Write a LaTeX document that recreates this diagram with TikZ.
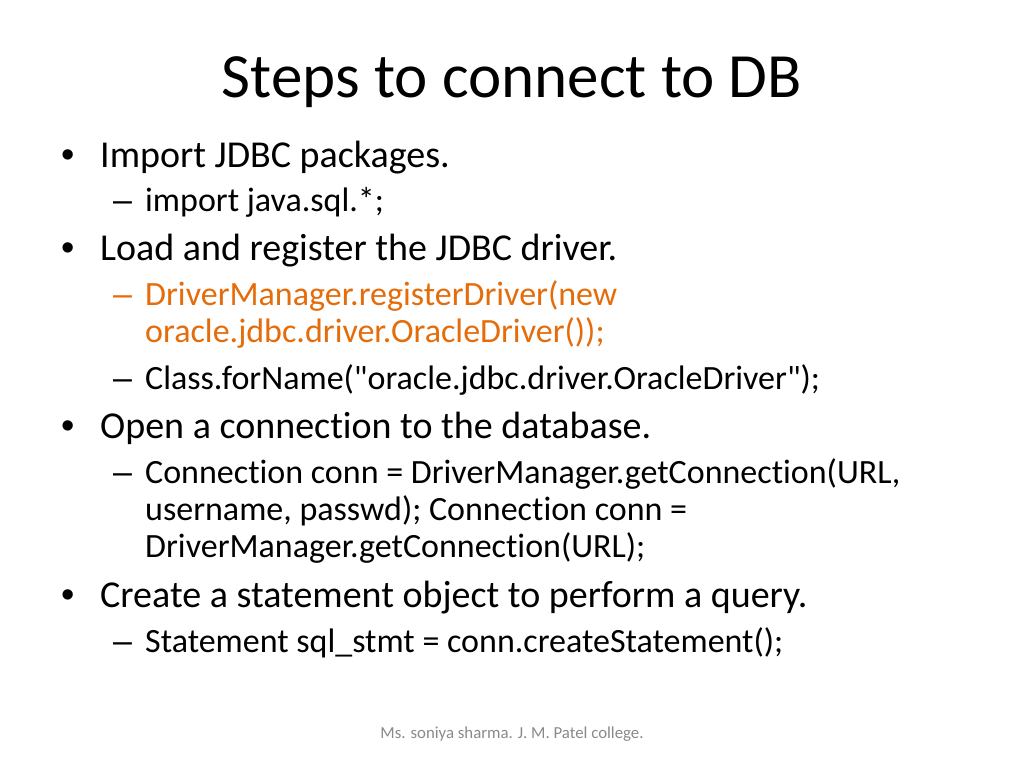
\documentclass[tikz,border=0pt]{standalone}
\usepackage{fontspec}
\setmainfont{Carlito}[Ligatures={NoCommon,TeXOff}]
\newfontfamily\bulfont{Liberation Sans}
\definecolor{orangetxt}{RGB}{228,108,10}
\definecolor{foot}{RGB}{137,137,137}
\tikzset{
  title/.style={anchor=base, inner sep=0pt, font=\fontsize{63}{70}\selectfont},
  lvlone/.style={anchor=base west, inner sep=0pt, font=\fontsize{38}{46}\selectfont},
  lvltwo/.style={anchor=base west, inner sep=0pt, font=\fontsize{34}{37}\selectfont},
  bul/.style={anchor=base, inner sep=0pt, font=\bulfont\fontsize{38}{46}\selectfont},
  dsh/.style={anchor=base west, inner sep=0pt, font=\bulfont\fontsize{34}{37}\selectfont},
  footer/.style={anchor=base, inner sep=0pt, text=foot, font=\fontsize{16.8}{19}\selectfont}
}
\begin{document}
\begin{tikzpicture}[x=1pt,y=-1pt]
\useasboundingbox (0,0) rectangle (1024,768);
\node[title] (t) at (512,97) {Steps to connect to DB};
% level 1
\node[bul] (b1) at (68,167) {•};
\node[lvlone] (l1) at (100,167) {Import JDBC packages.};
\node[dsh] (d1) at (113,211) {–};
\node[lvltwo] (s1) at (145,211) {import java.sql.*;};
\node[bul] (b2) at (68,260) {•};
\node[lvlone] (l2) at (100,260) {Load and register the JDBC driver.};
\node[dsh, text=orangetxt] (d2) at (113,305) {–};
\node[lvltwo, text=orangetxt] (s2) at (145,305) {DriverManager.registerDriver(new};
\node[lvltwo, text=orangetxt] (s2b) at (145,342) {oracle.jdbc.driver.OracleDriver());};
\node[dsh] (d3) at (113,389) {–};
\node[lvltwo] (s3) at (145,389) {Class.forName("oracle.jdbc.driver.OracleDriver");};
\node[bul] (b3) at (68,438) {•};
\node[lvlone] (l3) at (100,438) {Open a connection to the database.};
\node[dsh] (d4) at (113,483) {–};
\node[lvltwo] (s4) at (145,483) {Connection conn = DriverManager.getConnection(URL,};
\node[lvltwo] (s4b) at (145,520) {username, passwd); Connection conn =};
\node[lvltwo] (s4c) at (145,557) {DriverManager.getConnection(URL);};
\node[bul] (b4) at (68,607) {•};
\node[lvlone] (l4) at (100,607) {Create a statement object to perform a query.};
\node[dsh] (d5) at (113,652) {–};
\node[lvltwo] (s5) at (145,652) {Statement sql\_stmt = conn.createStatement();};
\node[footer] (f) at (512,738) {Ms. soniya sharma. J. M. Patel college.};
\end{tikzpicture}
\end{document}
